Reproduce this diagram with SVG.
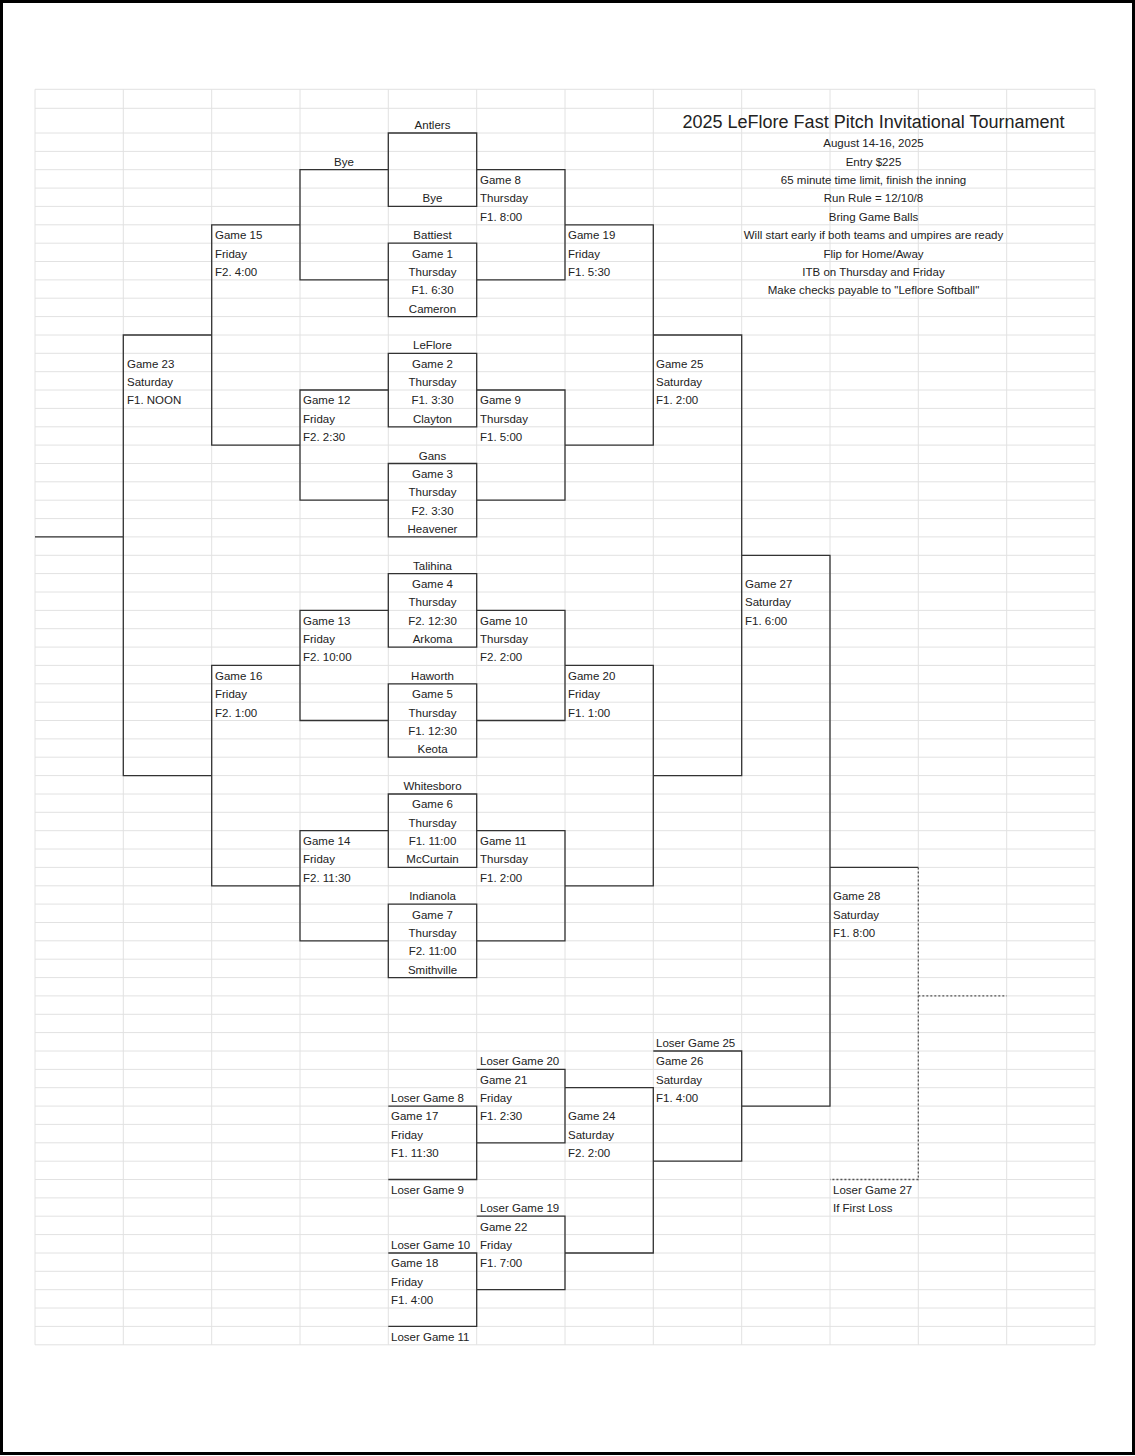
<svg xmlns="http://www.w3.org/2000/svg" width="1135" height="1456" viewBox="0 0 1135 1456">
<style>
text{font-family:"Liberation Sans",Arial,sans-serif;font-size:11.5px;fill:#222}
.c{text-anchor:middle}
.grid{stroke:#e2e2e2;stroke-width:1;fill:none}
.br{stroke:#333;stroke-width:1.3;fill:none}
.dot{stroke:#555;stroke-width:1.3;fill:none;stroke-dasharray:2 2}
</style>
<rect x="0" y="0" width="1135" height="1456" fill="#fff"/>
<rect x="1.5" y="1.5" width="1132" height="1452" fill="none" stroke="#000" stroke-width="3"/>
<g id="grid">
<path class="grid" d="M35 89.3H1095M35 108.3H1095M35 133H1095M35 151.4H1095M35 169.7H1095M35 188.1H1095M35 206.4H1095M35 224.8H1095M35 243.2H1095M35 261.5H1095M35 279.9H1095M35 298.2H1095M35 316.6H1095M35 335H1095M35 353.3H1095M35 371.7H1095M35 390H1095M35 408.4H1095M35 426.8H1095M35 445.1H1095M35 463.5H1095M35 481.8H1095M35 500.2H1095M35 518.6H1095M35 536.9H1095M35 555.3H1095M35 573.6H1095M35 592H1095M35 610.4H1095M35 628.7H1095M35 647.1H1095M35 665.4H1095M35 683.8H1095M35 702.2H1095M35 720.5H1095M35 738.9H1095M35 757.2H1095M35 775.6H1095M35 794H1095M35 812.3H1095M35 830.7H1095M35 849H1095M35 867.4H1095M35 885.8H1095M35 904.1H1095M35 922.5H1095M35 940.8H1095M35 959.2H1095M35 977.6H1095M35 995.9H1095M35 1014.3H1095M35 1032.6H1095M35 1051H1095M35 1069.4H1095M35 1087.7H1095M35 1106.1H1095M35 1124.4H1095M35 1142.8H1095M35 1161.2H1095M35 1179.5H1095M35 1197.9H1095M35 1216.2H1095M35 1234.6H1095M35 1253H1095M35 1271.3H1095M35 1289.7H1095M35 1308H1095M35 1326.4H1095M35 1344.8H1095"/>
<path class="grid" d="M35 89.3V1344.8M123.3 89.3V1344.8M211.7 89.3V1344.8M300 89.3V1344.8M388.3 89.3V1344.8M476.7 89.3V1344.8M565 89.3V1344.8M653.3 89.3V1344.8M741.7 89.3V1344.8M830 89.3V1344.8M918.3 89.3V1344.8M1006.7 89.3V1344.8M1095 89.3V1344.8"/>
</g>
<g id="connectors">
<path class="br" d="M388.3 133H476.7V206.4H388.3Z M388.3 243.2H476.7V316.6H388.3Z M388.3 353.3H476.7V426.8H388.3Z M388.3 463.5H476.7V536.9H388.3Z M388.3 573.6H476.7V647.1H388.3Z M388.3 683.8H476.7V757.2H388.3Z M388.3 794H476.7V867.4H388.3Z M388.3 904.1H476.7V977.6H388.3Z"/>
<path class="br" d="M476.7 169.7H565V279.9H476.7 M388.3 169.7H300V279.9H388.3 M300 224.8H211.7V445.1H300 M388.3 390H300V500.2H388.3 M476.7 390H565V500.2H476.7 M565 224.8H653.3V445.1H565 M653.3 335H741.7V775.6H653.3 M741.7 555.3H830V1106.1H741.7 M830 867.4H918.3"/>
<path class="br" d="M476.7 610.4H565V720.5H476.7 M388.3 610.4H300V720.5H388.3 M565 665.4H653.3V885.8H565 M476.7 830.7H565V940.8H476.7 M388.3 830.7H300V940.8H388.3 M300 665.4H211.7V885.8H300 M211.7 335H123.3V775.6H211.7 M123.3 536.9H35"/>
<path class="br" d="M388.3 1106.1H476.7V1179.5H388.3 M476.7 1069.4H565V1142.8H476.7 M388.3 1253H476.7V1326.4H388.3 M476.7 1216.2H565V1289.7H476.7 M565 1087.7H653.3V1253H565 M653.3 1051H741.7V1161.2H653.3"/>
<path class="dot" d="M918.3 867.4V1179.5H830 M918.3 995.9H1006.7"/>
</g>
<g id="title">
<text x="873.5" y="127.5" class="c" style="font-size:18px">2025 LeFlore Fast Pitch Invitational Tournament</text>
<text x="873.5" y="147.4" class="c">August 14-16, 2025</text>
<text x="873.5" y="165.7" class="c">Entry $225</text>
<text x="873.5" y="184.1" class="c">65 minute time limit, finish the inning</text>
<text x="873.5" y="202.4" class="c">Run Rule = 12/10/8</text>
<text x="873.5" y="220.8" class="c">Bring Game Balls</text>
<text x="873.5" y="239.2" class="c">Will start early if both teams and umpires are ready</text>
<text x="873.5" y="257.5" class="c">Flip for Home/Away</text>
<text x="873.5" y="275.9" class="c">ITB on Thursday and Friday</text>
<text x="873.5" y="294.2" class="c">Make checks payable to "Leflore Softball"</text>
</g>
<g id="teams" class="c">
<text x="432.5" y="129" class="c">Antlers</text>
<text x="344" y="165.7" class="c">Bye</text>
<text x="432.5" y="202.4" class="c">Bye</text>
<text x="432.5" y="239.2" class="c">Battiest</text>
<text x="432.5" y="257.5" class="c">Game 1</text>
<text x="432.5" y="275.9" class="c">Thursday</text>
<text x="432.5" y="294.2" class="c">F1. 6:30</text>
<text x="432.5" y="312.6" class="c">Cameron</text>
<text x="432.5" y="349.3" class="c">LeFlore</text>
<text x="432.5" y="367.7" class="c">Game 2</text>
<text x="432.5" y="386" class="c">Thursday</text>
<text x="432.5" y="404.4" class="c">F1. 3:30</text>
<text x="432.5" y="422.8" class="c">Clayton</text>
<text x="432.5" y="459.5" class="c">Gans</text>
<text x="432.5" y="477.8" class="c">Game 3</text>
<text x="432.5" y="496.2" class="c">Thursday</text>
<text x="432.5" y="514.6" class="c">F2. 3:30</text>
<text x="432.5" y="532.9" class="c">Heavener</text>
<text x="432.5" y="569.6" class="c">Talihina</text>
<text x="432.5" y="588" class="c">Game 4</text>
<text x="432.5" y="606.4" class="c">Thursday</text>
<text x="432.5" y="624.7" class="c">F2. 12:30</text>
<text x="432.5" y="643.1" class="c">Arkoma</text>
<text x="432.5" y="679.8" class="c">Haworth</text>
<text x="432.5" y="698.2" class="c">Game 5</text>
<text x="432.5" y="716.5" class="c">Thursday</text>
<text x="432.5" y="734.9" class="c">F1. 12:30</text>
<text x="432.5" y="753.2" class="c">Keota</text>
<text x="432.5" y="790" class="c">Whitesboro</text>
<text x="432.5" y="808.3" class="c">Game 6</text>
<text x="432.5" y="826.7" class="c">Thursday</text>
<text x="432.5" y="845" class="c">F1. 11:00</text>
<text x="432.5" y="863.4" class="c">McCurtain</text>
<text x="432.5" y="900.1" class="c">Indianola</text>
<text x="432.5" y="918.5" class="c">Game 7</text>
<text x="432.5" y="936.8" class="c">Thursday</text>
<text x="432.5" y="955.2" class="c">F2. 11:00</text>
<text x="432.5" y="973.6" class="c">Smithville</text>
</g>
<g id="games">
<text x="391" y="1102">Loser Game 8</text>
<text x="391" y="1120.4">Game 17</text>
<text x="391" y="1138.8">Friday</text>
<text x="391" y="1157.2">F1. 11:30</text>
<text x="391" y="1193.9">Loser Game 9</text>
<text x="391" y="1249">Loser Game 10</text>
<text x="391" y="1267.3">Game 18</text>
<text x="391" y="1285.7">Friday</text>
<text x="391" y="1304">F1. 4:00</text>
<text x="391" y="1340.8">Loser Game 11</text>
<text x="480" y="184.1">Game 8</text>
<text x="480" y="202.4">Thursday</text>
<text x="480" y="220.8">F1. 8:00</text>
<text x="480" y="404.4">Game 9</text>
<text x="480" y="422.8">Thursday</text>
<text x="480" y="441.1">F1. 5:00</text>
<text x="480" y="624.7">Game 10</text>
<text x="480" y="643.1">Thursday</text>
<text x="480" y="661.4">F2. 2:00</text>
<text x="480" y="845">Game 11</text>
<text x="480" y="863.4">Thursday</text>
<text x="480" y="881.8">F1. 2:00</text>
<text x="480" y="1065.4">Loser Game 20</text>
<text x="480" y="1083.7">Game 21</text>
<text x="480" y="1102.1">Friday</text>
<text x="480" y="1120.4">F1. 2:30</text>
<text x="480" y="1212.2">Loser Game 19</text>
<text x="480" y="1230.6">Game 22</text>
<text x="480" y="1249">Friday</text>
<text x="480" y="1267.3">F1. 7:00</text>
<text x="215" y="239.2">Game 15</text>
<text x="215" y="257.5">Friday</text>
<text x="215" y="275.9">F2. 4:00</text>
<text x="215" y="679.8">Game 16</text>
<text x="215" y="698.2">Friday</text>
<text x="215" y="716.5">F2. 1:00</text>
<text x="303" y="404.4">Game 12</text>
<text x="303" y="422.8">Friday</text>
<text x="303" y="441.1">F2. 2:30</text>
<text x="303" y="624.7">Game 13</text>
<text x="303" y="643.1">Friday</text>
<text x="303" y="661.4">F2. 10:00</text>
<text x="303" y="845">Game 14</text>
<text x="303" y="863.4">Friday</text>
<text x="303" y="881.8">F2. 11:30</text>
<text x="127" y="367.7">Game 23</text>
<text x="127" y="386">Saturday</text>
<text x="127" y="404.4">F1. NOON</text>
<text x="568" y="239.2">Game 19</text>
<text x="568" y="257.5">Friday</text>
<text x="568" y="275.9">F1. 5:30</text>
<text x="568" y="679.8">Game 20</text>
<text x="568" y="698.2">Friday</text>
<text x="568" y="716.5">F1. 1:00</text>
<text x="568" y="1120.4">Game 24</text>
<text x="568" y="1138.8">Saturday</text>
<text x="568" y="1157.2">F2. 2:00</text>
<text x="656" y="367.7">Game 25</text>
<text x="656" y="386">Saturday</text>
<text x="656" y="404.4">F1. 2:00</text>
<text x="656" y="1047">Loser Game 25</text>
<text x="656" y="1065.4">Game 26</text>
<text x="656" y="1083.7">Saturday</text>
<text x="656" y="1102.1">F1. 4:00</text>
<text x="745" y="588">Game 27</text>
<text x="745" y="606.4">Saturday</text>
<text x="745" y="624.7">F1. 6:00</text>
<text x="833" y="900.1">Game 28</text>
<text x="833" y="918.5">Saturday</text>
<text x="833" y="936.8">F1. 8:00</text>
<text x="833" y="1193.9">Loser Game 27</text>
<text x="833" y="1212.2">If First Loss</text>
</g>
</svg>
